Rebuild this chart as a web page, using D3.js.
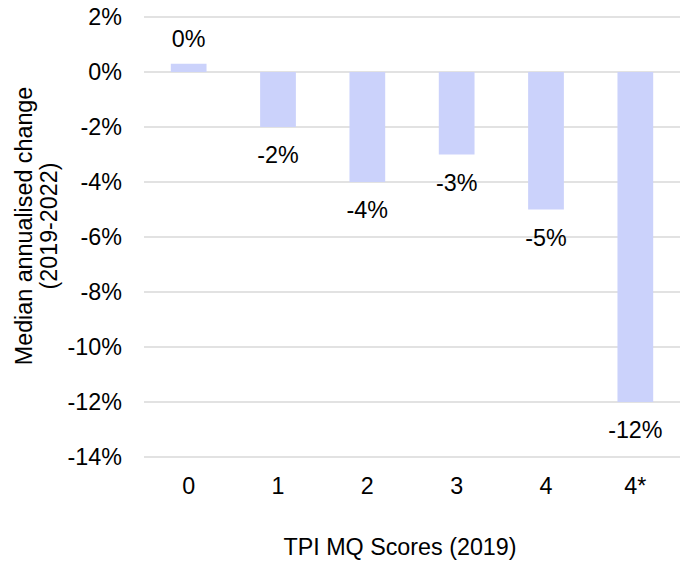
<!DOCTYPE html>
<html>
<head>
<meta charset="utf-8">
<script src="https://cdn.jsdelivr.net/npm/d3@7"></script>
<style>
  body { margin: 0; background: #fff; }
  text { font-family: "Liberation Sans", Arial, sans-serif; fill: #000; }
</style>
</head>
<body>
<script>
// chart data
var categories = ["0", "1", "2", "3", "4", "4*"];
var values = [0.3, -2, -4, -3, -5, -12];
var valueLabels = ["0%", "-2%", "-4%", "-3%", "-5%", "-12%"];
var yTicks = [2, 0, -2, -4, -6, -8, -10, -12, -14];

var width = 688,
    height = 562,
    fontSize = 23.3;

var svg = d3.select("body")
    .append("svg")
    .attr("width", width)
    .attr("height", height);

//scales
var x = d3.scaleBand()
    .domain(categories)
    .range([144, 680])
    .paddingInner(0.6)
    .paddingOuter(0.3);

var y = d3.scaleLinear()
    .domain([-14, 2])
    .range([457, 17]);

//gridlines
svg.selectAll(".grid")
    .data(yTicks)
    .enter()
    .append("line")
    .attr("x1", 144)
    .attr("x2", 680)
    .attr("y1", function(d){ return y(d); })
    .attr("y2", function(d){ return y(d); })
    .attr("stroke", "#d9d9d9")
    .attr("stroke-width", 1.5);

//y tick labels
svg.selectAll(".ylab")
    .data(yTicks)
    .enter()
    .append("text")
    .attr("x", 122)
    .attr("y", function(d){ return y(d); })
    .attr("dy", "0.35em")
    .attr("text-anchor", "end")
    .attr("font-size", fontSize)
    .text(function(d){ return d + "%"; });

//bars
svg.selectAll(".bar")
    .data(values)
    .enter()
    .append("rect")
    .attr("x", function(d, i){ return x(categories[i]); })
    .attr("width", x.bandwidth())
    .attr("y", function(d){ return y(Math.max(0, d)); })
    .attr("height", function(d){ return Math.abs(y(d) - y(0)); })
    .attr("fill", "#cbd2fb");

//value labels, above positive bars and below negative ones
svg.selectAll(".vlab")
    .data(values)
    .enter()
    .append("text")
    .attr("x", function(d, i){ return x(categories[i]) + x.bandwidth() / 2; })
    .attr("y", function(d){ return d >= 0 ? y(d) - 17 : y(d) + 36; })
    .attr("text-anchor", "middle")
    .attr("font-size", fontSize)
    .text(function(d, i){ return valueLabels[i]; });

//x tick labels
svg.selectAll(".xlab")
    .data(categories)
    .enter()
    .append("text")
    .attr("x", function(d){ return x(d) + x.bandwidth() / 2; })
    .attr("y", 494)
    .attr("text-anchor", "middle")
    .attr("font-size", fontSize)
    .text(function(d){ return d; });

//axis titles
svg.append("text")
    .attr("x", 400)
    .attr("y", 555)
    .attr("text-anchor", "middle")
    .attr("font-size", fontSize)
    .text("TPI MQ Scores (2019)");

var yTitle = svg.append("text")
    .attr("transform", "translate(32,226) rotate(-90)")
    .attr("text-anchor", "middle")
    .attr("font-size", fontSize);
yTitle.append("tspan").attr("x", 0).attr("y", 0).text("Median annualised change");
yTitle.append("tspan").attr("x", 0).attr("y", 25).text("(2019-2022)");
</script>
</body>
</html>
